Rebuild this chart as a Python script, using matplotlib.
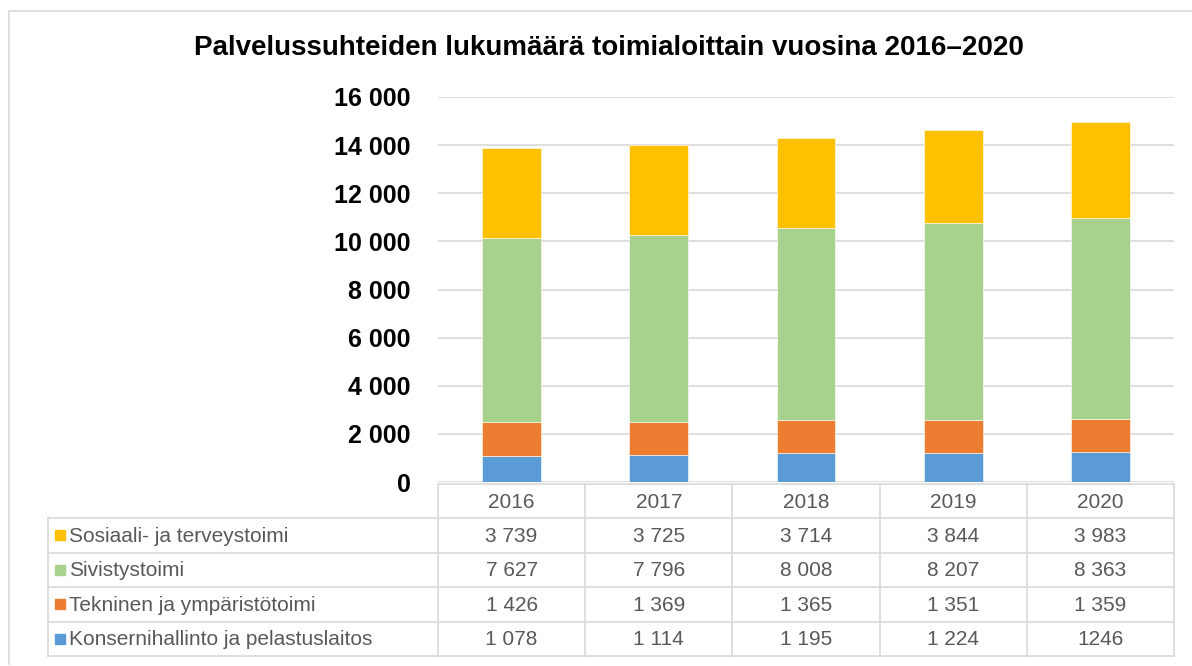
import matplotlib
matplotlib.use("Agg")
import matplotlib.pyplot as plt
from matplotlib.patches import Rectangle
from matplotlib.lines import Line2D

plt.rcParams['font.family'] = ['Liberation Sans', 'DejaVu Sans']

years = ["2016", "2017", "2018", "2019", "2020"]
series_names = ["Konsernihallinto ja pelastuslaitos", "Tekninen ja ympäristötoimi",
                "Sivistystoimi", "Sosiaali- ja terveystoimi"]
konserni = [1078, 1114, 1195, 1224, 1246]
tekninen = [1426, 1369, 1365, 1351, 1359]
sivistys = [7627, 7796, 8008, 8207, 8363]
sosiaali = [3739, 3725, 3714, 3844, 3983]
colors = ["#5B9BD5", "#ED7D31", "#A9D18E", "#FFC000"]
yticks = [0, 2000, 4000, 6000, 8000, 10000, 12000, 14000, 16000]
title = "Palvelussuhteiden lukumäärä toimialoittain vuosina 2016–2020"
# cells shown without thousands separator in the original table
plain_cells = {(0, 4)}

series = [konserni, tekninen, sivistys, sosiaali]

W, H = 1192, 666
fig = plt.figure(figsize=(W / 100, H / 100), dpi=100)

def fx(px):
    return px / W

def fy(py):
    return 1 - py / H

# outer border
fig.add_artist(Line2D([fx(9), fx(9)], [fy(11), fy(664)], color="#D9D9D9", lw=1.2))
fig.add_artist(Line2D([fx(9), fx(1192)], [fy(11), fy(11)], color="#D9D9D9", lw=1.2))

left_px, right_px, top_px, bot_px = 438, 1174, 97, 482
ax = fig.add_axes([fx(left_px), fy(bot_px), fx(right_px - left_px), (bot_px - top_px) / H])
x = list(range(len(years)))
bottom = [0] * len(years)
for vals, c in zip(series, colors):
    ax.bar(x, vals, bottom=bottom, width=0.4, color=c, edgecolor="white", linewidth=0.4, zorder=3)
    bottom = [b + v for b, v in zip(bottom, vals)]
ax.set_xlim(-0.5, len(years) - 0.5)
ax.set_ylim(0, 16000)
ax.set_yticks(yticks)
ax.set_yticklabels([f"{t:,}".replace(",", " ") for t in yticks], fontsize=18, fontweight="bold")
ax.tick_params(axis="y", length=0, pad=19.5)
ax.set_xticks([])
for s in ax.spines.values():
    s.set_visible(False)
ax.grid(axis="y", color="#D9D9D9", lw=1.2, zorder=0)

fig.text(fx(609), fy(48), title, ha="center", va="center", fontsize=20, fontweight="bold")

# data table
tab_left = 48
col_w = (right_px - left_px) / len(years)
header_top, header_bot = 484, 518
row_h = (656 - 518) / 4
line_kw = dict(color="#D9D9D9", lw=1.2)
fs_tab = 15

# header cells
for i, yr in enumerate(years):
    x0 = left_px + i * col_w
    fig.add_artist(Line2D([fx(x0), fx(x0)], [fy(header_top), fy(656)], **line_kw))
    fig.text(fx(x0 + col_w / 2), fy((header_top + header_bot) / 2 + 1), yr,
             ha="center", va="center", fontsize=fs_tab, color="#595959")
fig.add_artist(Line2D([fx(right_px), fx(right_px)], [fy(header_top), fy(656)], **line_kw))
fig.add_artist(Line2D([fx(tab_left), fx(tab_left)], [fy(header_bot), fy(656)], **line_kw))
fig.add_artist(Line2D([fx(left_px), fx(right_px)], [fy(header_top), fy(header_top)], **line_kw))

rows = list(range(len(series)))[::-1]  # top row = last series
for r, si in enumerate(rows):
    y0 = header_bot + r * row_h
    fig.add_artist(Line2D([fx(tab_left), fx(right_px)], [fy(y0), fy(y0)], **line_kw))
    yc = y0 + row_h / 2
    fig.add_artist(Rectangle((fx(55), fy(yc + 5)), fx(10), 10 / H, color=colors[si],
                             transform=fig.transFigure))
    fig.text(fx(69), fy(yc + 1), series_names[si], ha="left", va="center",
             fontsize=fs_tab, color="#595959")
    for i, v in enumerate(series[si]):
        s = str(v) if (si, i) in plain_cells else f"{v:,}".replace(",", " ")
        fig.text(fx(left_px + i * col_w + col_w / 2), fy(yc + 1), s, ha="center", va="center",
                 fontsize=fs_tab, color="#595959")
fig.add_artist(Line2D([fx(tab_left), fx(right_px)], [fy(656), fy(656)], **line_kw))

fig.savefig("out.png", dpi=100)
